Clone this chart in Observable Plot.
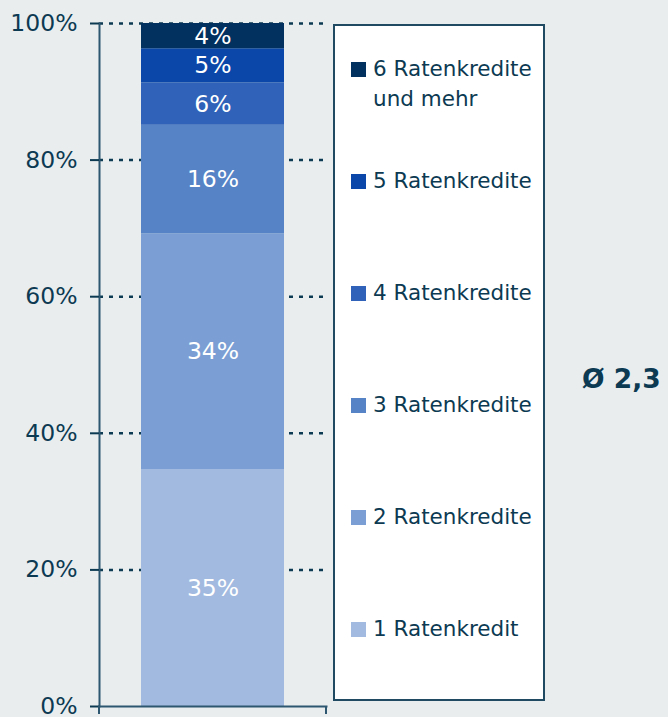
<!DOCTYPE html>
<html>
<head>
<meta charset="utf-8">
<script src="https://cdn.jsdelivr.net/npm/d3@7"></script>
<script src="https://cdn.jsdelivr.net/npm/@observablehq/plot@0.6"></script>
<style>
  html, body { margin: 0; padding: 0; background: #e9edee; }
  #wrap { position: relative; width: 668px; height: 717px; background: #e9edee; font-family: "DejaVu Sans", sans-serif; color: #0c3a52; overflow: hidden; }
  #legend { position: absolute; left: 333px; top: 24px; width: 212px; height: 677px; box-sizing: border-box; border: 2px solid #1f4a61; background: #ffffff; padding: 28px 0 0 16px; }
  .item { height: 112px; display: flex; align-items: flex-start; }
  .sw { width: 15px; height: 15px; flex: none; margin-top: 8px; margin-right: 7px; }
  .lbl { font-size: 21.5px; line-height: 30px; }
  #avg { position: absolute; left: 582px; top: 366px; font-size: 26.5px; line-height: 26px; font-weight: bold; color: #0c3a52; }
</style>
</head>
<body>
<div id="wrap"></div>
<script>
// ---- data ----
const categories = ["1 Ratenkredit", "2 Ratenkredite", "3 Ratenkredite", "4 Ratenkredite", "5 Ratenkredite", "6 Ratenkredite und mehr"];
const legendLines = [["1 Ratenkredit"], ["2 Ratenkredite"], ["3 Ratenkredite"], ["4 Ratenkredite"], ["5 Ratenkredite"], ["6 Ratenkredite", "und mehr"]];
const shares = [34.7, 34.5, 15.9, 6.2, 5.0, 3.7];
const shareLabels = ["35%", "34%", "16%", "6%", "5%", "4%"];
const colors = ["#a2badf", "#7b9fd4", "#5583c6", "#2f62b8", "#0a47a9", "#02305f"];
const yTicks = [0, 20, 40, 60, 80, 100];
const barGroup = ["Ratenkredite"];
const averageText = "Ø 2,3";

const rows = categories.map((c, i) => ({group: barGroup[0], cat: c, value: shares[i], label: shareLabels[i]}));

const ink = "#0c3a52";
const axisInk = "#2d5670";

const cornerTicks = (index, scales, values, dims) => {
  const g = d3.create("svg:g").attr("stroke", axisInk).attr("stroke-width", 2);
  const yb = dims.height - dims.marginBottom;
  [dims.marginLeft, dims.width - dims.marginRight].forEach(x => {
    g.append("line").attr("x1", x).attr("x2", x).attr("y1", yb).attr("y2", yb + 8);
  });
  return g.node();
};

const chart = Plot.plot({
  width: 668,
  height: 717,
  marginLeft: 99,
  marginRight: 342,
  marginTop: 23,
  marginBottom: 11,
  style: {fontFamily: "DejaVu Sans", fontSize: "23px", background: "#e9edee", color: ink, overflow: "visible"},
  x: {type: "band", domain: barGroup, padding: 0.227, axis: null},
  y: {domain: [0, 100], axis: null},
  color: {domain: categories, range: colors},
  marks: [
    Plot.gridY(yTicks.filter(d => d > 0), {stroke: ink, strokeOpacity: 1, strokeWidth: 2.5, strokeDasharray: "4,6"}),
    Plot.barY(rows, Plot.stackY({x: "group", y: "value", fill: "cat"})),
    Plot.text(rows, Plot.stackY({x: "group", y: "value", text: "label", fill: "white", fontSize: 23.5})),
    Plot.frame({anchor: "left", stroke: axisInk, strokeWidth: 2}),
    Plot.frame({anchor: "bottom", stroke: axisInk, strokeWidth: 2}),
    Plot.axisY({ticks: yTicks, tickFormat: d => d + "%", label: null, tickSize: 9, tickPadding: 13, stroke: ink, strokeWidth: 2, fill: ink, fontSize: 23.5}),
    cornerTicks
  ]
});

const wrap = document.getElementById("wrap");
wrap.appendChild(chart);
chart.style.position = "absolute";
chart.style.left = "0px";
chart.style.top = "0px";

const legend = document.createElement("div");
legend.id = "legend";
for (let i = categories.length - 1; i >= 0; i--) {
  const item = document.createElement("div");
  item.className = "item";
  const sw = document.createElement("div");
  sw.className = "sw";
  sw.style.background = colors[i];
  const lbl = document.createElement("div");
  lbl.className = "lbl";
  lbl.innerHTML = legendLines[i].join("<br>");
  item.appendChild(sw);
  item.appendChild(lbl);
  legend.appendChild(item);
}
wrap.appendChild(legend);

const avg = document.createElement("div");
avg.id = "avg";
avg.textContent = averageText;
wrap.appendChild(avg);
</script>
</body>
</html>
